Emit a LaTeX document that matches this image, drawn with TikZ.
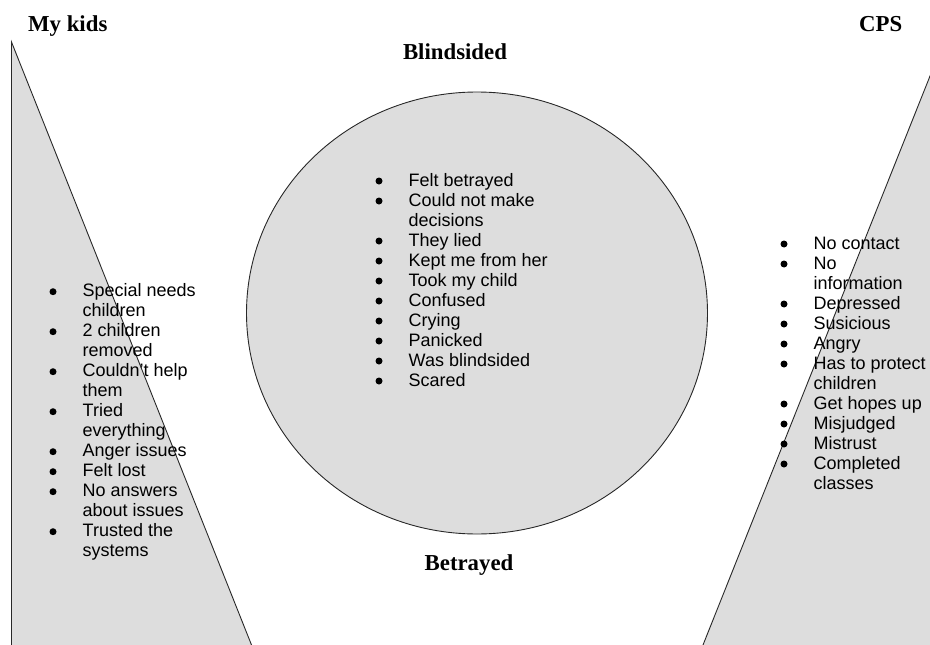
\documentclass[tikz,border=0pt]{standalone}
\usepackage{fontspec}
\setmainfont{Liberation Serif}
\newfontfamily\arialfont{Liberation Sans}
\definecolor{shade}{RGB}{221,221,221}
\definecolor{edge}{RGB}{40,40,40}
\tikzset{
  shapeline/.style={draw=edge, line width=0.9pt, fill=shade},
  title/.style={inner sep=0pt, anchor=base west, font=\fontsize{22.8}{26}\selectfont\bfseries},
  txt/.style={inner sep=0pt, anchor=base west, font=\arialfont\fontsize{18}{20}\selectfont},
  bul/.style={circle, fill=black, inner sep=0pt, minimum size=7pt}
}
\newcommand\bitem[4]{\node[bul] (#1b) at (#2,{#3-5}) {};\node[txt] (#1) at ({#2+29.5},#3) {#4};}
\newcommand\citem[4]{\node[txt] (#1) at ({#2+29.5},#3) {#4};}
\begin{document}
\begin{tikzpicture}[x=1pt,y=-1pt]
\useasboundingbox (0,0) rectangle (930,645);
\clip (0,0) rectangle (930,645);
% shapes
\draw[shapeline] (11.5,42) -- (11.5,660) -- (257.5,660) -- cycle;
\draw[shapeline] (940,51) -- (697,660) -- (950,660) -- cycle;
\draw[shapeline] (477,313) ellipse [x radius=230.5, y radius=221];
% titles
\node[title] (mykids) at (28,31.7) {My kids};
\node[title] (cps) at (859,31.7) {CPS};
\node[title,anchor=base] (blind) at (455,59.3) {Blindsided};
\node[title,anchor=base] (betr) at (469,570.5) {Betrayed};
% left list
\bitem{l0}{53}{296.7}{Special needs}
\citem{l1}{53}{316.7}{children}
\bitem{l2}{53}{336.7}{2 children}
\citem{l3}{53}{356.7}{removed}
\bitem{l4}{53}{376.7}{Couldn’t help}
\citem{l5}{53}{396.7}{them}
\bitem{l6}{53}{416.7}{Tried}
\citem{l7}{53}{436.7}{everything}
\bitem{l8}{53}{456.7}{Anger issues}
\bitem{l9}{53}{476.7}{Felt lost}
\bitem{l10}{53}{496.7}{No answers}
\citem{l11}{53}{516.7}{about issues}
\bitem{l12}{53}{536.7}{Trusted the}
\citem{l13}{53}{556.7}{systems}
% centre list
\bitem{c0}{379}{186}{Felt betrayed}
\bitem{c1}{379}{206}{Could not make}
\citem{c2}{379}{226}{decisions}
\bitem{c3}{379}{246}{They lied}
\bitem{c4}{379}{266}{Kept me from her}
\bitem{c5}{379}{286}{Took my child}
\bitem{c6}{379}{306}{Confused}
\bitem{c7}{379}{326}{Crying}
\bitem{c8}{379}{346}{Panicked}
\bitem{c9}{379}{366}{Was blindsided}
\bitem{c10}{379}{386}{Scared}
% right list
\bitem{r0}{784}{249}{No contact}
\bitem{r1}{784}{269}{No}
\citem{r2}{784}{289}{information}
\bitem{r3}{784}{309}{Depressed}
\bitem{r4}{784}{329}{Susicious}
\bitem{r5}{784}{349}{Angry}
\bitem{r6}{784}{369}{Has to protect}
\citem{r7}{784}{389}{children}
\bitem{r8}{784}{409}{Get hopes up}
\bitem{r9}{784}{429}{Misjudged}
\bitem{r10}{784}{449}{Mistrust}
\bitem{r11}{784}{469}{Completed}
\citem{r12}{784}{489}{classes}
\end{tikzpicture}
\end{document}
